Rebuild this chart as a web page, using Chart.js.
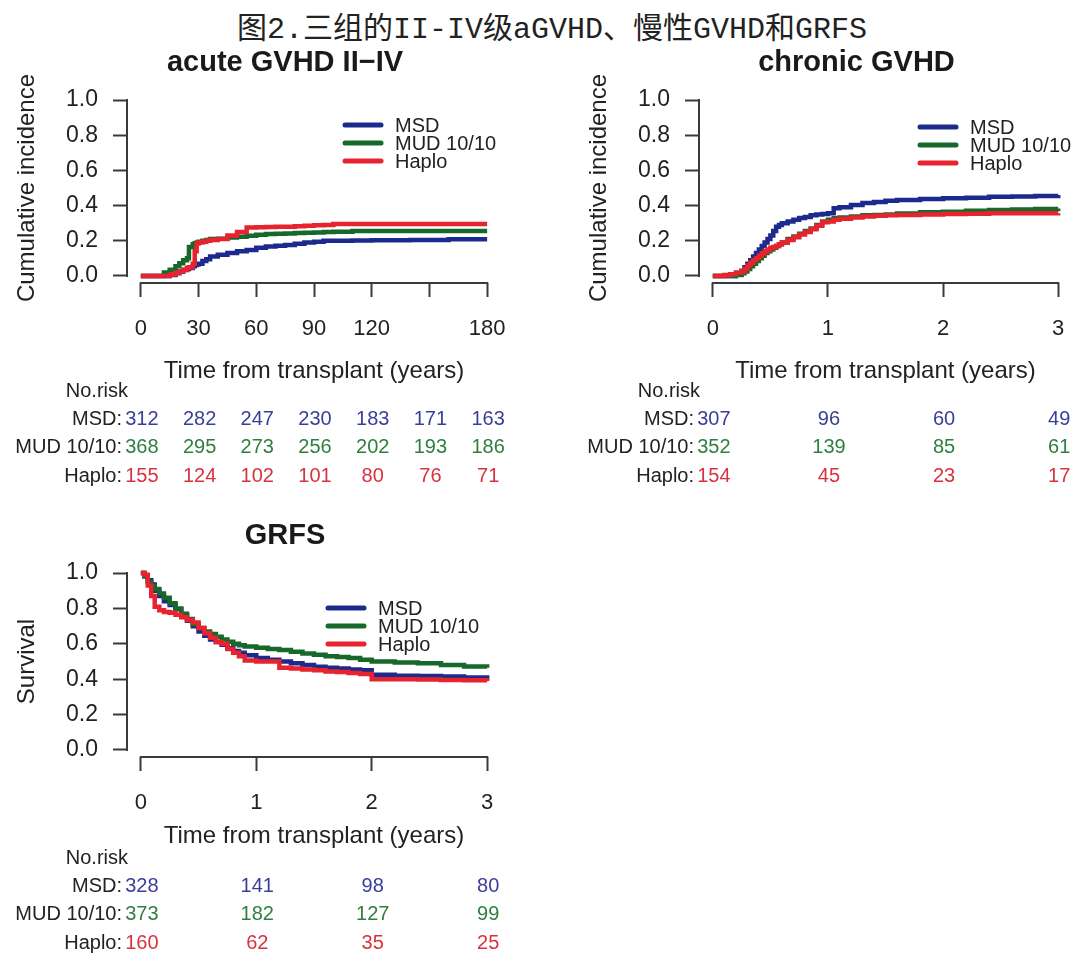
<!DOCTYPE html>
<html lang="zh">
<head>
<meta charset="utf-8">
<title>图2</title>
<script src="https://cdn.jsdelivr.net/npm/chart.js@4.4.1/dist/chart.umd.min.js"></script>
<style>
  html, body { margin: 0; padding: 0; background: #fff; }
  body { width: 1080px; height: 956px; position: relative; overflow: hidden; }
  #figTitle {
    position: absolute; left: 0; top: 3px; width: 1104px; text-align: center;
    font: 30px "Liberation Mono", "Noto Sans CJK SC", monospace; color: #222;
  }
  canvas { position: absolute; }
</style>
</head>
<body>
<div id="figTitle">图2.三组的II-IV级aGVHD、慢性GVHD和GRFS</div>
<canvas id="acute" width="540" height="460" style="left:0;top:40px"></canvas>
<canvas id="chronic" width="540" height="460" style="left:540px;top:40px"></canvas>
<canvas id="grfs" width="540" height="456" style="left:0;top:500px"></canvas>
<script>
// ---- 共通 ----
const groups = ["MSD", "MUD 10/10", "Haplo"];
const lineColors = ["#1c2a8e", "#17692b", "#e6232e"];
const textColors = ["#3a3f96", "#2f7f3e", "#d9323f"];
const yTicks = [0, 0.2, 0.4, 0.6, 0.8, 1.0];
const FONT = "'Liberation Sans', Arial, sans-serif";

// ---- acute GVHD II-IV (days) ----
const acuteDays  = [0, 8, 12, 15, 18, 20, 22, 24, 25, 27, 28, 29, 30, 32, 34, 36, 40, 45, 50, 55, 60, 65, 70, 75, 80, 85, 90, 95, 100, 110, 120, 130, 140, 150, 160, 170, 180];
const acuteMSD   = [0, 0, 0, 0.006, 0.015, 0.025, 0.034, 0.04, 0.045, 0.055, 0.062, 0.065, 0.07, 0.085, 0.095, 0.11, 0.12, 0.13, 0.14, 0.148, 0.16, 0.167, 0.172, 0.176, 0.183, 0.19, 0.195, 0.2, 0.2, 0.202, 0.203, 0.203, 0.205, 0.205, 0.208, 0.208, 0.208];
const acuteMUD   = [0, 0, 0.02, 0.035, 0.055, 0.072, 0.09, 0.1, 0.165, 0.18, 0.186, 0.19, 0.195, 0.2, 0.205, 0.21, 0.212, 0.218, 0.223, 0.228, 0.234, 0.238, 0.24, 0.242, 0.244, 0.245, 0.247, 0.25, 0.252, 0.255, 0.256, 0.256, 0.256, 0.256, 0.256, 0.256, 0.256];
const acuteHaplo = [0, 0, 0, 0.008, 0.018, 0.025, 0.035, 0.045, 0.05, 0.07, 0.14, 0.185, 0.19, 0.195, 0.2, 0.205, 0.21, 0.23, 0.25, 0.275, 0.277, 0.278, 0.28, 0.28, 0.282, 0.285, 0.288, 0.29, 0.295, 0.295, 0.295, 0.295, 0.295, 0.295, 0.295, 0.295, 0.295];
const acuteTicks = [0, 30, 60, 90, 120, 150, 180];
const acuteTickLabels = ["0", "30", "60", "90", "120", "", "180"];
const acuteRiskMSD   = [312, 282, 247, 230, 183, 171, 163];
const acuteRiskMUD   = [368, 295, 273, 256, 202, 193, 186];
const acuteRiskHaplo = [155, 124, 102, 101, 80, 76, 71];

// ---- chronic GVHD (years) ----
const chronicYears = [0, 0.1, 0.15, 0.2, 0.25, 0.275, 0.3, 0.325, 0.35, 0.375, 0.4, 0.425, 0.45, 0.475, 0.5, 0.525, 0.55, 0.575, 0.6, 0.65, 0.7, 0.75, 0.8, 0.85, 0.9, 0.95, 1.0, 1.05, 1.1, 1.2, 1.3, 1.4, 1.5, 1.6, 1.8, 2.0, 2.2, 2.4, 2.6, 2.8, 3.0];
const chronicMSD   = [0, 0, 0, 0.01, 0.03, 0.05, 0.07, 0.09, 0.11, 0.13, 0.15, 0.17, 0.19, 0.21, 0.23, 0.255, 0.28, 0.29, 0.3, 0.31, 0.32, 0.33, 0.335, 0.345, 0.35, 0.352, 0.356, 0.385, 0.39, 0.403, 0.415, 0.42, 0.428, 0.432, 0.438, 0.442, 0.445, 0.45, 0.452, 0.455, 0.46];
const chronicMUD   = [0, 0, 0, 0.005, 0.015, 0.025, 0.04, 0.055, 0.07, 0.085, 0.1, 0.115, 0.13, 0.14, 0.15, 0.16, 0.17, 0.18, 0.19, 0.21, 0.225, 0.24, 0.255, 0.27, 0.29, 0.31, 0.32, 0.328, 0.332, 0.338, 0.345, 0.347, 0.35, 0.355, 0.362, 0.365, 0.37, 0.375, 0.378, 0.38, 0.383];
const chronicHaplo = [0, 0.005, 0.01, 0.02, 0.025, 0.04, 0.06, 0.075, 0.09, 0.1, 0.115, 0.128, 0.14, 0.15, 0.16, 0.165, 0.17, 0.18, 0.19, 0.205, 0.22, 0.235, 0.25, 0.265, 0.285, 0.305, 0.31, 0.32, 0.325, 0.333, 0.338, 0.342, 0.345, 0.347, 0.35, 0.352, 0.354, 0.356, 0.356, 0.356, 0.357];
const yearTicks = [0, 1, 2, 3];
const yearTickLabels = ["0", "1", "2", "3"];
const chronicRiskMSD   = [307, 96, 60, 49];
const chronicRiskMUD   = [352, 139, 85, 61];
const chronicRiskHaplo = [154, 45, 23, 17];

// ---- GRFS (years) ----
const grfsYears = [0, 0.03, 0.06, 0.09, 0.12, 0.16, 0.2, 0.25, 0.3, 0.35, 0.4, 0.45, 0.5, 0.55, 0.6, 0.65, 0.7, 0.75, 0.8, 0.85, 0.9, 1.0, 1.1, 1.2, 1.3, 1.4, 1.5, 1.6, 1.7, 1.8, 1.9, 2.0, 2.2, 2.4, 2.6, 2.8, 3.0];
const grfsMSD   = [1, 0.985, 0.96, 0.935, 0.9, 0.87, 0.84, 0.82, 0.795, 0.76, 0.73, 0.7, 0.67, 0.645, 0.625, 0.61, 0.595, 0.575, 0.56, 0.55, 0.535, 0.52, 0.51, 0.5, 0.49, 0.48, 0.47, 0.465, 0.46, 0.455, 0.45, 0.425, 0.42, 0.418, 0.415, 0.41, 0.4];
const grfsMUD   = [1, 0.98, 0.95, 0.925, 0.91, 0.885, 0.86, 0.83, 0.8, 0.77, 0.74, 0.71, 0.69, 0.67, 0.655, 0.64, 0.625, 0.612, 0.6, 0.592, 0.585, 0.578, 0.57, 0.565, 0.555, 0.545, 0.538, 0.53, 0.525, 0.52, 0.51, 0.5, 0.495, 0.49, 0.48, 0.472, 0.465];
const grfsHaplo = [1, 0.99, 0.93, 0.87, 0.81, 0.79, 0.78, 0.775, 0.765, 0.75, 0.735, 0.72, 0.69, 0.66, 0.635, 0.61, 0.6, 0.57, 0.55, 0.53, 0.505, 0.5, 0.5, 0.465, 0.46, 0.455, 0.45, 0.443, 0.44, 0.435, 0.43, 0.4, 0.4, 0.398, 0.396, 0.394, 0.39];
const grfsRiskMSD   = [328, 141, 98, 80];
const grfsRiskMUD   = [373, 182, 127, 99];
const grfsRiskHaplo = [160, 62, 35, 25];

Chart.defaults.font.family = FONT;
Chart.defaults.color = "#222";

// タイトル・軸線・凡例・リスク表（Rのplot風）
const kmDecor = {
  id: "kmDecor",
  afterDraw(chart, args, o) {
    const { ctx, chartArea: a, scales: { x, y } } = chart;
    const xt = o.xTicks;
    ctx.save();
    // 軸線（最初と最後の目盛りの間だけ）
    ctx.strokeStyle = "#3a3a3a";
    ctx.lineWidth = 2;
    ctx.beginPath();
    ctx.moveTo(x.getPixelForValue(xt[0]) - 1, a.bottom);
    ctx.lineTo(x.getPixelForValue(xt[xt.length - 1]) + 1, a.bottom);
    ctx.moveTo(a.left, y.getPixelForValue(yTicks[0]) + 1);
    ctx.lineTo(a.left, y.getPixelForValue(yTicks[yTicks.length - 1]) - 1);
    ctx.stroke();

    // パネルタイトル
    ctx.fillStyle = "#1a1a1a";
    ctx.font = "bold 29px " + FONT;
    ctx.textAlign = "center";
    ctx.textBaseline = "middle";
    ctx.fillText(o.title, (a.left + a.right) / 2 + o.titleDx, a.top + o.titleDy);

    // 凡例
    ctx.font = "20px " + FONT;
    ctx.textAlign = "left";
    chart.data.datasets.forEach((ds, i) => {
      const ly = a.top + o.legendDy + i * 18;
      const lx = a.left + o.legendDx;
      ctx.strokeStyle = ds.borderColor;
      ctx.lineWidth = 5;
      ctx.lineCap = "round";
      ctx.beginPath();
      ctx.moveTo(lx, ly);
      ctx.lineTo(lx + 36, ly);
      ctx.stroke();
      ctx.fillStyle = "#222";
      ctx.fillText(ds.label, lx + 50, ly + 1);
    });

    // No.risk 表
    const ty = a.bottom + o.tableDy;
    ctx.font = "20px " + FONT;
    ctx.textAlign = "right";
    ctx.fillStyle = "#222";
    ctx.fillText("No.risk", a.left + 1, ty);
    o.risk.forEach((row, i) => {
      const ry = ty + (i + 1) * 28.4;
      ctx.textAlign = "right";
      ctx.fillStyle = "#222";
      ctx.fillText(groups[i] + ":", a.left - 5, ry);
      ctx.textAlign = "center";
      ctx.fillStyle = textColors[i];
      row.forEach((n, j) => ctx.fillText(String(n), x.getPixelForValue(xt[j]) + 1, ry));
    });
    ctx.restore();
  }
};

function makePanel(id, p) {
  const series = p.series.map((vals, i) => ({
    label: groups[i],
    data: vals.map((v, k) => ({ x: p.times[k], y: v })),
    borderColor: lineColors[i],
    borderWidth: 4.5,
    pointRadius: 0,
    stepped: true,
    order: 2 - i
  }));
  return new Chart(document.getElementById(id), {
    type: "line",
    data: { datasets: series },
    options: {
      responsive: false,
      animation: false,
      devicePixelRatio: 1,
      layout: { padding: { left: 0, top: p.padTop, right: p.padRight, bottom: p.padBottom } },
      plugins: {
        legend: { display: false },
        tooltip: { enabled: false },
        kmDecor: {
          title: p.title, titleDx: -29, titleDy: -30,
          xTicks: p.xTicks, legendDx: p.legendDx, legendDy: p.legendDy,
          tableDy: p.tableDy, risk: p.risk
        }
      },
      scales: {
        x: {
          type: "linear",
          min: -0.04 * p.xMax, max: 1.04 * p.xMax,
          afterBuildTicks: s => { s.ticks = p.xTicks.map(v => ({ value: v })); },
          afterFit: s => { s.height = 110; s.paddingLeft = 0; s.paddingRight = 0; },
          ticks: { autoSkip: false, maxRotation: 0, padding: 19, color: "#222",
                   font: { size: 22 }, callback: (v, i) => p.xLabels[i] },
          grid: { display: true, drawOnChartArea: false, drawTicks: true, tickLength: 14,
                  tickWidth: 2, tickColor: "#3a3a3a" },
          border: { display: false },
          title: { display: true, text: "Time from transplant (years)", color: "#222",
                   font: { size: 24 }, padding: { top: 0, bottom: p.xTitlePad } }
        },
        y: {
          type: "linear",
          min: -0.04, max: 1.04,
          afterBuildTicks: s => { s.ticks = yTicks.map(v => ({ value: v })); },
          afterFit: s => { s.width = p.yWidth; s.paddingTop = 0; s.paddingBottom = 0; },
          ticks: { autoSkip: false, padding: 15, color: "#222", font: { size: 23 },
                   callback: v => v.toFixed(1) },
          grid: { display: true, drawOnChartArea: false, drawTicks: true, tickLength: 14,
                  tickWidth: 2, tickColor: "#3a3a3a" },
          border: { display: false },
          title: { display: true, text: p.yTitle, color: "#222",
                   font: { size: 24 }, padding: { top: p.yTitlePad, bottom: 0 } }
        }
      }
    },
    plugins: [kmDecor]
  });
}

makePanel("acute", {
  title: "acute GVHD II\u2212IV", yTitle: "Cumulative incidence",
  times: acuteDays, series: [acuteMSD, acuteMUD, acuteHaplo],
  xTicks: acuteTicks, xLabels: acuteTickLabels, xMax: 180,
  risk: [acuteRiskMSD, acuteRiskMUD, acuteRiskHaplo],
  padTop: 53, padRight: 39, padBottom: 107, yWidth: 127, yTitlePad: 12.6, xTitlePad: 7.6,
  legendDx: 218, legendDy: 32, tableDy: 108
});

makePanel("chronic", {
  title: "chronic GVHD", yTitle: "Cumulative incidence",
  times: chronicYears, series: [chronicMSD, chronicMUD, chronicHaplo],
  xTicks: yearTicks, xLabels: yearTickLabels, xMax: 3,
  risk: [chronicRiskMSD, chronicRiskMUD, chronicRiskHaplo],
  padTop: 53, padRight: 8, padBottom: 107, yWidth: 159, yTitlePad: 44.6, xTitlePad: 7.6,
  legendDx: 221, legendDy: 34, tableDy: 108
});

makePanel("grfs", {
  title: "GRFS", yTitle: "Survival",
  times: grfsYears, series: [grfsMSD, grfsMUD, grfsHaplo],
  xTicks: yearTicks, xLabels: yearTickLabels, xMax: 3,
  risk: [grfsRiskMSD, grfsRiskMUD, grfsRiskHaplo],
  padTop: 66, padRight: 39, padBottom: 89, yWidth: 127, yTitlePad: 12.6, xTitlePad: 16.6,
  legendDx: 201, legendDy: 42, tableDy: 101
});
</script>
</body>
</html>
